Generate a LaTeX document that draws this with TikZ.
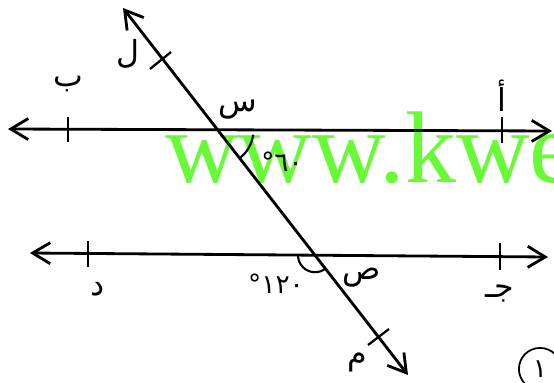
\documentclass[tikz,border=0pt]{standalone}
\usepackage{fontspec}
\usepackage{tikz}
\usetikzlibrary{arrows.meta,calc}
\setmainfont{Liberation Serif}
\newfontfamily\arabicfont[Script=Arabic]{DejaVu Sans}
\TeXXeTstate=1
\definecolor{MarkGreen}{RGB}{105,250,55}
\tikzset{
  lbl/.style={font=\arabicfont\fontsize{18}{18}\selectfont,inner sep=0pt},
  deg/.style={font=\arabicfont\fontsize{15}{15}\selectfont,inner sep=0pt},
  tick/.style={line width=1.3pt},
}

\begin{document}
\begin{tikzpicture}[x=0.02cm,y=-0.02cm,>={Straight Barb[length=10pt,width=12pt]},line width=1.6pt]
\useasboundingbox (0,0) rectangle (554,382);
% watermark (behind the drawing)
\node[anchor=base west,inner sep=0pt,text=MarkGreen,font=\fontsize{58}{58}\selectfont] (wm) at (164,182) {www.kwe};
% the two parallel lines and the transversal
\coordinate (topL) at (8,129);
\coordinate (topR) at (552,131);
\coordinate (botL) at (30,253);
\coordinate (botR) at (548,257);
\coordinate (tL) at (123,8);
\coordinate (tM) at (408,375);
\draw[<->] (topL)--(topR);
\draw[<->] (botL)--(botR);
\draw[<->] (tL)--(tM);
\coordinate (S) at (intersection of topL--topR and tL--tM);
\coordinate (P) at (intersection of botL--botR and tL--tM);
% ticks
\draw[tick] (68,117)--(68,142);
\draw[tick] (502,117)--(502,143);
\draw[tick] (88,241)--(88,267);
\draw[tick] (500,243)--(500,270);
\draw[tick] (150,69)--(171,52);
\draw[tick] (368,345)--(389,329);
% angles
\draw[line width=1.2pt] ($(S)+(8:36)$) arc[start angle=8,end angle=52,radius=36];
\draw[line width=1.2pt] ($(P)+(180:17)$) arc[start angle=180,end angle=52,radius=17];
% labels
\node[lbl] (l) at (128,54) {\beginR ل\endR};
\node[lbl] (b) at (68,84) {\beginR ب\endR};
\node[lbl] (a) at (502,96) {\beginR أ\endR};
\node[lbl] (s) at (238,110) {\beginR س\endR};
\node[deg] (a60) at (282,162) {\hbox{°}\hbox{٦٠}};
\node[lbl] (p) at (362,278) {\beginR ص\endR};
\node[lbl] (j) at (500,294) {\beginR جـ\endR};
\node[lbl] (d) at (98,289) {\beginR د\endR};
\node[deg] (a120) at (276,284) {\hbox{°}\hbox{١٢٠}};
\node[lbl] (m) at (357,362) {\beginR م\endR};
\node[draw,circle,line width=1pt,minimum size=24pt,inner sep=0pt,font=\arabicfont\fontsize{15}{15}\selectfont] (n1) at (540,369) {١};
\end{tikzpicture}
\end{document}
